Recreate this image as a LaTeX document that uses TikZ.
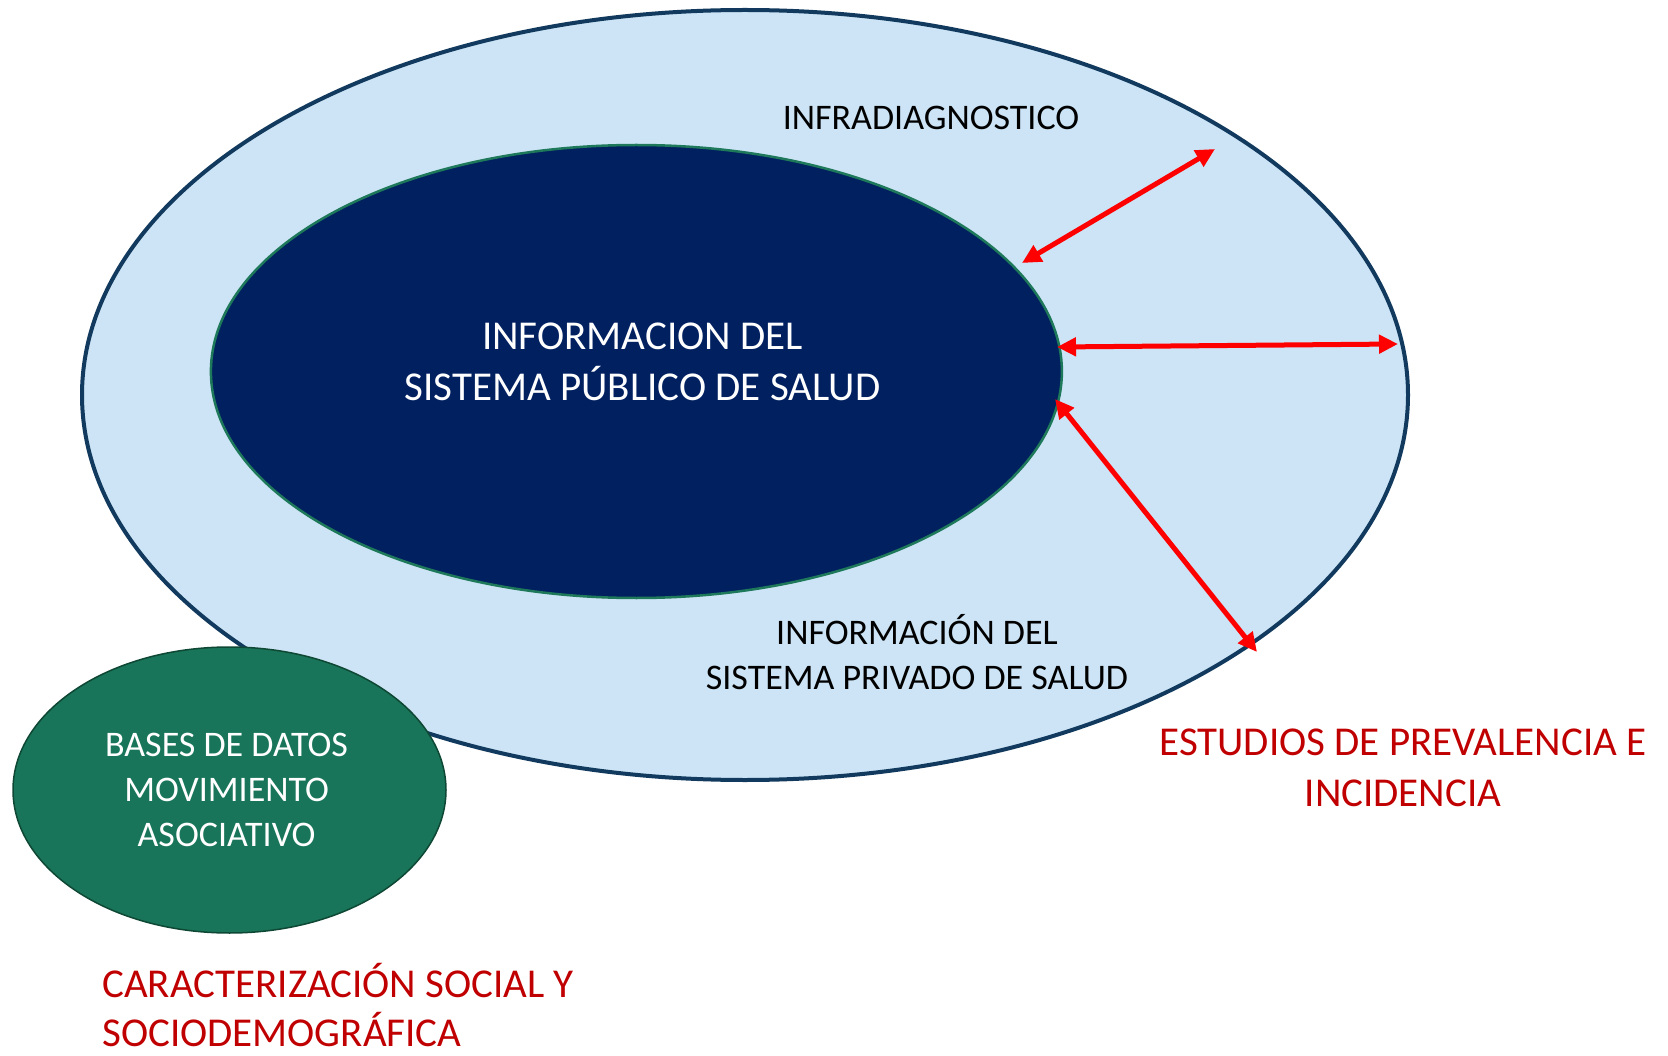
\documentclass[tikz,border=0pt]{standalone}
\usepackage{fontspec}
\setmainfont{Carlito}
\usetikzlibrary{shapes.geometric,arrows.meta}
\definecolor{outerfill}{RGB}{204,228,245}
\definecolor{outerline}{RGB}{18,58,94}
\definecolor{innerfill}{RGB}{0,32,96}
\definecolor{innerline}{RGB}{30,120,90}
\definecolor{greenfill}{RGB}{24,117,89}
\definecolor{greenline}{RGB}{14,72,52}
\definecolor{redtext}{RGB}{192,0,0}
\definecolor{arrowred}{RGB}{255,0,0}
\tikzset{
  blob/.style={ellipse, inner sep=0pt, outer sep=0pt},
  bigtxt/.style={font=\fontsize{41}{51}\selectfont, align=center, inner sep=0pt},
  smalltxt/.style={font=\fontsize{36}{44.7}\selectfont, align=center, inner sep=0pt},
  link/.style={draw=arrowred, line width=5pt, {Triangle[length=19pt,width=18pt]}-{Triangle[length=19pt,width=18pt]}, shorten <=0pt, shorten >=0pt}
}
\begin{document}
\begin{tikzpicture}[x=1pt,y=-1pt]
\useasboundingbox (0,0) rectangle (1668,1056);
% outer ellipse
\node[blob, fill=outerfill, draw=outerline, line width=4pt, minimum width=1326pt, minimum height=770pt] (outer) at (745,395) {};
% green ellipse
\node[blob, fill=greenfill, draw=greenline, line width=1.5pt, minimum width=433pt, minimum height=286pt] (green) at (229.5,790) {};
% inner ellipse
\node[blob, fill=innerfill, draw=innerline, line width=2.5pt, minimum width=851pt, minimum height=453pt] (inner) at (636.4,371.5) {};

% texts
\node[bigtxt, text=white] (pubtxt) at (642.5,362) {INFORMACION DEL\\SISTEMA PÚBLICO DE SALUD};
\node[smalltxt, text=black] (infra) at (931,118) {INFRADIAGNOSTICO};
\node[smalltxt, text=black] (privtxt) at (917,652) {INFORMACIÓN DEL\\SISTEMA PRIVADO DE SALUD};
\node[smalltxt, text=white] (greentxt) at (226.6,790) {BASES DE DATOS\\MOVIMIENTO\\ASOCIATIVO};
\node[bigtxt, text=redtext] (estudios) at (1403,768) {ESTUDIOS DE PREVALENCIA E\\INCIDENCIA};
\node[bigtxt, font=\fontsize{41}{49}\selectfont, text=redtext, align=left, anchor=west] (caract) at (102,1005) {CARACTERIZACIÓN SOCIAL Y\\SOCIODEMOGRÁFICA};

% arrow endpoints
\coordinate (a1in) at (1022,263);
\coordinate (a1out) at (1215,149);
\coordinate (a2in) at (1057,347);
\coordinate (a2out) at (1398,344);
\coordinate (a3in) at (1055,399);
\coordinate (a3out) at (1257,652);

\draw[link] (a1in) -- (a1out);
\draw[link] (a2in) -- (a2out);
\draw[link] (a3in) -- (a3out);
\end{tikzpicture}
\end{document}
